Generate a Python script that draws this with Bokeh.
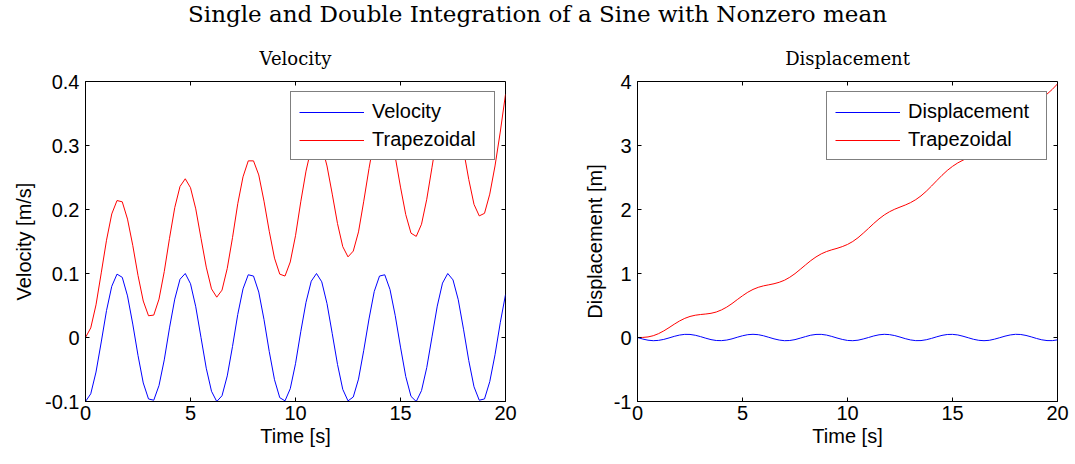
import math
from bokeh.plotting import figure
from bokeh.layouts import column, row
from bokeh.models import Range1d, Legend, LegendItem, FixedTicker
from bokeh.core.properties import value
from bokeh.embed import file_html
from bokeh.resources import INLINE

# ---------------- data ----------------
time_s = [0.0, 0.25, 0.5, 0.75, 1.0, 1.25, 1.5, 1.75, 2.0, 2.25, 2.5, 2.75,
          3.0, 3.25, 3.5, 3.75, 4.0, 4.25, 4.5, 4.75, 5.0, 5.25, 5.5, 5.75,
          6.0, 6.25, 6.5, 6.75, 7.0, 7.25, 7.5, 7.75, 8.0, 8.25, 8.5, 8.75,
          9.0, 9.25, 9.5, 9.75, 10.0, 10.25, 10.5, 10.75, 11.0, 11.25, 11.5, 11.75,
          12.0, 12.25, 12.5, 12.75, 13.0, 13.25, 13.5, 13.75, 14.0, 14.25, 14.5, 14.75,
          15.0, 15.25, 15.5, 15.75, 16.0, 16.25, 16.5, 16.75, 17.0, 17.25, 17.5, 17.75,
          18.0, 18.25, 18.5, 18.75, 19.0, 19.25, 19.5, 19.75, 20.0]

velocity = [-0.100, -0.088, -0.054, -0.007, 0.042, 0.080, 0.099, 0.094, 0.065, 0.021,
            -0.028, -0.071, -0.096, -0.098, -0.075, -0.035, 0.015, 0.060, 0.091, 0.100,
            0.084, 0.048, 0.000, -0.048, -0.084, -0.100, -0.091, -0.060, -0.014, 0.036,
            0.076, 0.098, 0.096, 0.071, 0.028, -0.022, -0.066, -0.094, -0.099, -0.080,
            -0.041, 0.009, 0.055, 0.088, 0.100, 0.087, 0.053, 0.006, -0.042, -0.081,
            -0.099, -0.093, -0.065, -0.020, 0.029, 0.072, 0.096, 0.098, 0.075, 0.034,
            -0.015, -0.061, -0.092, -0.100, -0.083, -0.047, 0.001, 0.049, 0.085, 0.100,
            0.090, 0.059, 0.013, -0.036, -0.077, -0.098, -0.096, -0.069, -0.027, 0.023,
            0.067]

velocity_trap = [0.000, 0.015, 0.051, 0.101, 0.152, 0.193, 0.214, 0.212, 0.185, 0.144,
                 0.097, 0.057, 0.034, 0.035, 0.060, 0.103, 0.155, 0.203, 0.236, 0.248,
                 0.234, 0.201, 0.155, 0.110, 0.076, 0.063, 0.074, 0.108, 0.156, 0.209,
                 0.251, 0.276, 0.276, 0.254, 0.213, 0.166, 0.124, 0.099, 0.096, 0.118,
                 0.159, 0.212, 0.260, 0.296, 0.310, 0.300, 0.268, 0.224, 0.178, 0.142,
                 0.126, 0.135, 0.165, 0.213, 0.264, 0.310, 0.336, 0.341, 0.320, 0.282,
                 0.235, 0.192, 0.163, 0.158, 0.177, 0.216, 0.266, 0.317, 0.355, 0.373,
                 0.365, 0.337, 0.293, 0.247, 0.208, 0.190, 0.194, 0.224, 0.268, 0.321,
                 0.380]

displacement = [0.000, -0.024, -0.042, -0.050, -0.045, -0.030, -0.007, 0.018, 0.038, 0.049,
                0.048, 0.035, 0.014, -0.011, -0.033, -0.047, -0.049, -0.040, -0.021, 0.004,
                0.027, 0.044, 0.050, 0.044, 0.027, 0.003, -0.021, -0.040, -0.050, -0.047,
                -0.033, -0.010, 0.014, 0.036, 0.048, 0.049, 0.038, 0.017, -0.008, -0.030,
                -0.046, -0.050, -0.042, -0.023, 0.000, 0.024, 0.042, 0.050, 0.045, 0.030,
                0.007, -0.018, -0.038, -0.049, -0.048, -0.035, -0.014, 0.011, 0.033, 0.047,
                0.049, 0.040, 0.020, -0.004, -0.028, -0.044, -0.050, -0.044, -0.026, -0.003,
                0.021, 0.040, 0.050, 0.047, 0.032, 0.010, -0.015, -0.036, -0.048, -0.049,
                -0.037]

displacement_trap = [0.000, 0.001, 0.009, 0.028, 0.060, 0.103, 0.154, 0.208, 0.258, 0.299,
                     0.329, 0.348, 0.359, 0.367, 0.378, 0.398, 0.431, 0.475, 0.530, 0.592,
                     0.652, 0.707, 0.751, 0.784, 0.807, 0.823, 0.840, 0.863, 0.895, 0.941,
                     0.998, 1.065, 1.134, 1.201, 1.259, 1.307, 1.343, 1.370, 1.393, 1.420,
                     1.454, 1.500, 1.559, 1.630, 1.705, 1.782, 1.853, 1.915, 1.965, 2.005,
                     2.038, 2.070, 2.107, 2.154, 2.213, 2.285, 2.366, 2.451, 2.534, 2.610,
                     2.674, 2.728, 2.771, 2.811, 2.852, 2.901, 2.961, 3.034, 3.119, 3.210,
                     3.302, 3.390, 3.470, 3.537, 3.593, 3.643, 3.690, 3.742, 3.803, 3.876,
                     3.963]

x_ticks = [0, 5, 10, 15, 20]
vel_ticks = [-0.1, 0, 0.1, 0.2, 0.3, 0.4]
vel_tick_labels = ["-0.1", "0", "0.1", "0.2", "0.3", "0.4"]
disp_ticks = [-1, 0, 1, 2, 3, 4]
disp_tick_labels = ["-1", "0", "1", "2", "3", "4"]

main_title = "Single and Double Integration of a Sine with Nonzero mean"
left_title = "Velocity"
right_title = "Displacement"
x_label = "Time [s]"
left_ylabel = "Velocity [m/s]"
right_ylabel = "Displacement [m]"
left_names = ["Velocity", "Trapezoidal"]
right_names = ["Displacement", "Trapezoidal"]

SANS = "Liberation Sans"
SERIF = "DejaVu Serif"
FS = "20px"

# ---------------- top title strip ----------------
p0 = figure(width=1075, height=32, toolbar_location=None, output_backend="svg",
            x_range=Range1d(0, 1075), y_range=Range1d(0, 32), min_border=0)
p0.axis.visible = False
p0.grid.visible = False
p0.outline_line_color = None
p0.text(x=[537], y=[19], text=[main_title], text_align="center", text_baseline="middle",
        text_font=value(SERIF), text_font_size="23px", text_color="black")


def make_panel(width, left, right, yr, yticks, ylabels, title, ylabel, y1, y2,
               names, lab_w, ylab_standoff):
    p = figure(width=width, height=432, toolbar_location=None, output_backend="svg",
               x_range=Range1d(0, 20), y_range=Range1d(*yr),
               min_border_left=left, min_border_right=right,
               min_border_top=49, min_border_bottom=63)
    p.grid.visible = False
    p.outline_line_color = "black"
    p.outline_line_width = 1
    p.title.text = title
    p.title.align = "center"
    p.title.text_font = SERIF
    p.title.text_font_size = "18px"
    p.title.text_font_style = "normal"
    p.title.text_color = "black"
    p.title.standoff = 26

    for ax in p.xaxis:
        ax.ticker = FixedTicker(ticks=x_ticks)
        ax.axis_label = x_label
        ax.major_label_standoff = 4
        ax.axis_label_standoff = 2
    for ax in p.yaxis:
        ax.ticker = FixedTicker(ticks=yticks)
        ax.major_label_overrides = {t: s for t, s in zip(yticks, ylabels)}
        ax.axis_label = ylabel
        ax.major_label_standoff = 6
        ax.axis_label_standoff = ylab_standoff
    for ax in list(p.xaxis) + list(p.yaxis):
        ax.major_tick_in = 4
        ax.major_tick_out = 0
        ax.minor_tick_line_color = None
        ax.major_label_text_font = SANS
        ax.major_label_text_font_size = FS
        ax.major_label_text_color = "black"
        ax.axis_label_text_font = SANS
        ax.axis_label_text_font_size = FS
        ax.axis_label_text_font_style = "normal"
        ax.axis_label_text_color = "black"
        ax.axis_line_color = "black"
        ax.major_tick_line_color = "black"

    # inward tick marks on the top and right edges (box on)
    p.ray(x=x_ticks, y=[yr[1]] * len(x_ticks), length=4, length_units="screen",
          angle=-math.pi / 2, line_color="black", line_width=1)
    p.ray(x=[20] * len(yticks), y=yticks, length=4, length_units="screen",
          angle=math.pi, line_color="black", line_width=1)

    r1 = p.line(time_s, y1, line_color="#0000ff", line_width=1)
    r2 = p.line(time_s, y2, line_color="#ff0000", line_width=1)
    leg = Legend(items=[LegendItem(label=names[0], renderers=[r1]),
                        LegendItem(label=names[1], renderers=[r2])],
                 location="top_right", margin=10, padding=8, spacing=5,
                 glyph_width=65, glyph_height=22, label_height=22, label_width=lab_w,
                 label_standoff=8,
                 label_text_font=SANS, label_text_font_size=FS, label_text_color="black",
                 border_line_color="black", border_line_width=1,
                 background_fill_alpha=1.0)
    p.add_layout(leg, "center")
    return p


p1 = make_panel(545, 85, 40, (-0.1, 0.4), vel_ticks, vel_tick_labels, left_title,
                left_ylabel, velocity, velocity_trap, left_names, 114, 7)
p2 = make_panel(530, 92, 18, (-1, 4), disp_ticks, disp_tick_labels, right_title,
                right_ylabel, displacement, displacement_trap, right_names, 130, 5)

layout = column(p0, row(p1, p2))
open("out.html", "w").write(file_html(layout, INLINE))
